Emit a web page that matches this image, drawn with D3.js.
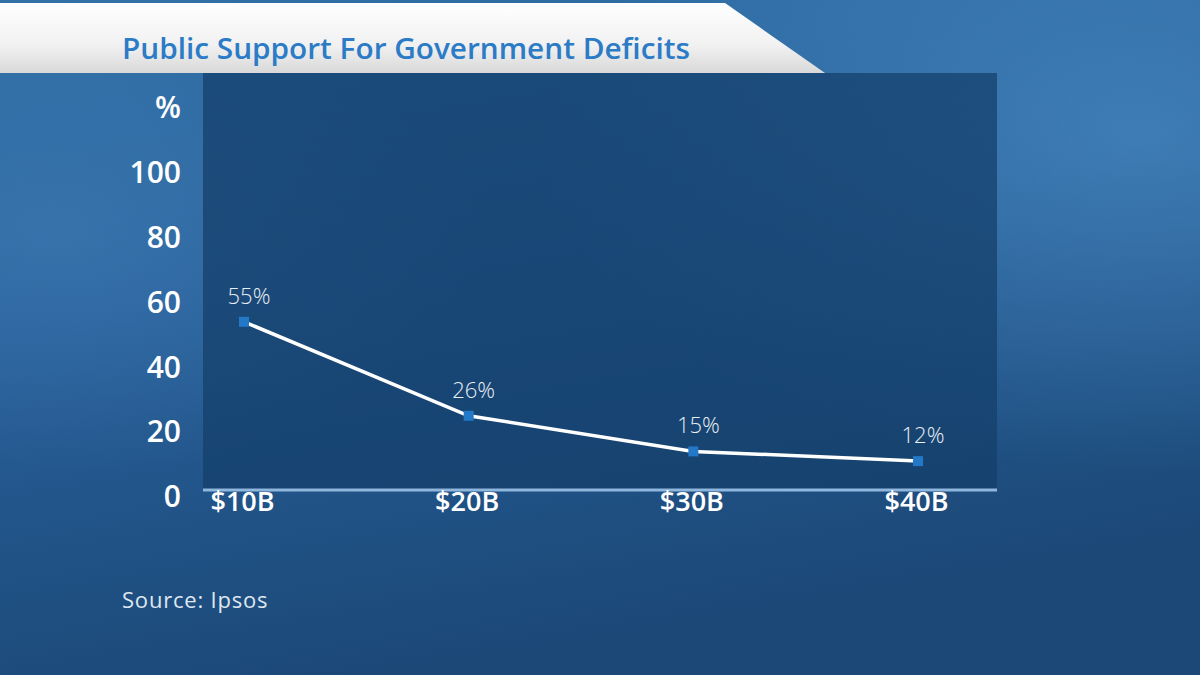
<!DOCTYPE html>
<html><head><meta charset="utf-8">
<script src="https://cdn.jsdelivr.net/npm/d3@7/dist/d3.min.js"></script>
<style>
html,body{margin:0;padding:0;background:#24578a;overflow:hidden}
svg{display:block}
</style></head>
<body>
<svg id="chart" width="1200" height="675"></svg>
<script>
const categories = ["$10B", "$20B", "$30B", "$40B"];
const supportValues = [55, 26, 15, 12];
const valueLabels = ["55%", "26%", "15%", "12%"];
const yTickValues = [0, 20, 40, 60, 80, 100, 120];
const yTickLabels = ["0", "20", "40", "60", "80", "100", "%"];
const titleText = "Public Support For Government Deficits";
const sourceText = "Source: Ipsos";

const W = 1200, H = 675;
const panel = {x0: 203, x1: 997, y0: 73, y1: 489};
const svg = d3.select("#chart");
const defs = svg.append("defs");

// background gradients
const bg = defs.append("linearGradient").attr("id","bg").attr("x1","0").attr("y1","0").attr("x2","0.3").attr("y2","1");
bg.append("stop").attr("offset","0").attr("stop-color","#3271a8");
bg.append("stop").attr("offset","0.45").attr("stop-color","#28609a");
bg.append("stop").attr("offset","1").attr("stop-color","#1b4877");
const hl = defs.append("radialGradient").attr("id","hl").attr("cx","0.95").attr("cy","0.2").attr("r","0.5");
hl.append("stop").attr("offset","0").attr("stop-color","#4d8fc6").attr("stop-opacity",0.6);
hl.append("stop").attr("offset","1").attr("stop-color","#4d8fc6").attr("stop-opacity",0);
const hl2 = defs.append("radialGradient").attr("id","hl2").attr("cx","0.05").attr("cy","0.35").attr("r","0.35");
hl2.append("stop").attr("offset","0").attr("stop-color","#4783bb").attr("stop-opacity",0.45);
hl2.append("stop").attr("offset","1").attr("stop-color","#4783bb").attr("stop-opacity",0);
const ban = defs.append("linearGradient").attr("id","ban").attr("x1","0").attr("y1","0").attr("x2","0").attr("y2","1");
ban.append("stop").attr("offset","0").attr("stop-color","#ffffff");
ban.append("stop").attr("offset","0.6").attr("stop-color","#f1f1f1");
ban.append("stop").attr("offset","1").attr("stop-color","#d9d9d9");

svg.append("rect").attr("width",W).attr("height",H).attr("fill","url(#bg)");
svg.append("rect").attr("width",W).attr("height",H).attr("fill","url(#hl)");
svg.append("rect").attr("width",W).attr("height",H).attr("fill","url(#hl2)");

// title banner
svg.append("polygon")
  .attr("points", `0,3 725,3 825,73 0,73`)
  .attr("fill","url(#ban)");
svg.append("text")
  .attr("x",122).attr("y",59)
  .attr("font-family","'Open Sans', Lato, sans-serif")
  .attr("font-weight",600).attr("font-size",29)
  .attr("textLength",568).attr("lengthAdjust","spacingAndGlyphs")
  .attr("fill","#2b7bc6")
  .text(titleText);

// plot panel
svg.append("rect")
  .attr("x",panel.x0).attr("y",panel.y0)
  .attr("width",panel.x1-panel.x0).attr("height",panel.y1-panel.y0)
  .attr("fill","#143e6a").attr("fill-opacity",0.72);

// scales
const x = d3.scalePoint().domain(categories).range([244, 918]);
const y = d3.scaleLinear().domain([0, 100]).range([500, 176]);

// axis line
svg.append("line")
  .attr("x1",panel.x0).attr("x2",panel.x1)
  .attr("y1",panel.y1+1).attr("y2",panel.y1+1)
  .attr("stroke","#8fb6dd").attr("stroke-width",3);

// y tick labels
const yAxis = d3.axisLeft(y).tickValues(yTickValues)
  .tickFormat((d,i)=>yTickLabels[i]).tickSize(0).tickPadding(0);
const yg = svg.append("g").attr("transform","translate(181,-3)").call(yAxis);
yg.select(".domain").remove();
yg.selectAll("text")
  .attr("font-family","'Open Sans', Lato, sans-serif")
  .attr("font-weight",600).attr("font-size",30)
  .attr("fill","#ffffff");

// x tick labels
const xAxis = d3.axisBottom(x).tickSize(0).tickPadding(0);
const xg = svg.append("g").attr("transform","translate(-2,492)").call(xAxis);
xg.select(".domain").remove();
xg.selectAll("text")
  .attr("font-family","'Open Sans', Lato, sans-serif")
  .attr("font-weight",600).attr("font-size",27)
  .attr("fill","#ffffff");

// line
const data = categories.map((c,i)=>({c, v: supportValues[i], label: valueLabels[i]}));
svg.append("path").datum(data)
  .attr("d", d3.line().x(d=>x(d.c)).y(d=>y(d.v)))
  .attr("fill","none").attr("stroke","#ffffff").attr("stroke-width",3.5);

svg.selectAll("rect.mk").data(data).enter().append("rect").attr("class","mk")
  .attr("x",d=>x(d.c)-5).attr("y",d=>y(d.v)-5)
  .attr("width",10).attr("height",10)
  .attr("fill","#2378c8");

svg.selectAll("text.vl").data(data).enter().append("text").attr("class","vl")
  .attr("x",d=>x(d.c)+5).attr("y",d=>y(d.v)-18)
  .attr("text-anchor","middle")
  .attr("font-family","'Open Sans', Lato, sans-serif")
  .attr("font-weight",300).attr("font-size",22)
  .attr("fill","#e8eef5")
  .text(d=>d.label);

// source
svg.append("text")
  .attr("x",122).attr("y",608)
  .attr("font-family","'Open Sans', Lato, sans-serif")
  .attr("font-size",22).attr("letter-spacing",0.8).attr("fill","#dfe7f0")
  .text(sourceText);
</script>
</body></html>
